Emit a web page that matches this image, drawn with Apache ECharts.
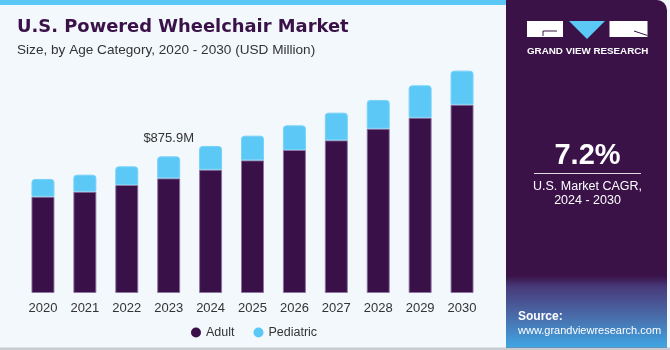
<!DOCTYPE html>
<html>
<head>
<meta charset="utf-8">
<script src="https://cdn.jsdelivr.net/npm/echarts@6/dist/echarts.min.js"></script>
<style>
html,body{margin:0;padding:0;background:#f3f8fc;}
#c{width:670px;height:350px;}
</style>
</head>
<body>
<div id="c"></div>
<script>
var years = ['2020','2021','2022','2023','2024','2025','2026','2027','2028','2029','2030'];
var adult = [617.5, 649.5, 692.5, 734.8, 790.6, 850.2, 916.9, 978.5, 1053.5, 1124.0, 1207.4];
var pediatric = [113.5, 109.0, 119.3, 141.1, 152.0, 158.4, 157.7, 177.6, 184.0, 207.1, 218.0];
var labelIndex = 3;

var chart = echarts.init(document.getElementById('c'), null, {renderer:'canvas'});
var FONT = '"Liberation Sans", Arial, sans-serif';
var purple = '#3a1048';
var blue = '#5bc8f5';

var pedData = pediatric.map(function(v,i){
  if (i === labelIndex) {
    return {value: v, label: {show: true}};
  }
  return v;
});

var option = {
  backgroundColor: '#f3f8fc',
  animation: false,
  title: [{
    text: 'U.S. Powered Wheelchair Market',
    left: 17, top: 18, padding: 0,
    textStyle: {fontFamily: '"DejaVu Sans", sans-serif', fontWeight: 'bold', fontSize: 17.9, color: '#3a1248'}
  },{
    text: 'Size, by Age Category, 2020 - 2030 (USD Million)',
    left: 17, top: 43, padding: 0,
    textStyle: {fontFamily: FONT, fontWeight: 'normal', fontSize: 13.6, color: '#333333'}
  }],
  legend: {
    left: 186, top: 321,
    itemWidth: 10, itemHeight: 10, itemGap: 19,
    icon: 'circle',
    itemStyle: {borderWidth: 0},
    textStyle: {fontFamily: FONT, fontSize: 12.5, color: '#333333', padding: [0,0,0,0]},
    data: ['Adult','Pediatric']
  },
  grid: {left: 22, right: 187, top: 59, bottom: 57},
  xAxis: {
    type: 'category',
    data: years,
    axisLine: {show: false},
    axisTick: {show: false},
    axisLabel: {fontFamily: FONT, fontSize: 13, color: '#333333', margin: 9}
  },
  yAxis: {
    type: 'value', min: 0, max: 1500,
    show: false,
    splitLine: {show: false}
  },
  series: [{
    name: 'Adult',
    type: 'bar',
    stack: 'total',
    barWidth: 23,
    data: adult,
    itemStyle: {color: purple, borderColor: 'rgba(140,115,160,0.9)', borderWidth: 1}
  },{
    name: 'Pediatric',
    type: 'bar',
    stack: 'total',
    barWidth: 23,
    data: pedData,
    itemStyle: {color: blue, borderRadius: [3,3,0,0], borderColor: 'rgba(120,210,250,1)', borderWidth: 1},
    label: {
      show: false,
      position: 'top',
      distance: 11,
      fontFamily: FONT, fontSize: 13, color: '#333333',
      formatter: function(p){
        return '$' + (adult[p.dataIndex] + pediatric[p.dataIndex]).toFixed(1) + 'M';
      }
    }
  }],
  graphic: [
    {type:'rect', shape:{x:0,y:0,width:506,height:5}, style:{fill: blue}, silent:true},
    {type:'rect', shape:{x:0,y:347.5,width:670,height:2.5}, style:{fill:'#c8ccd0'}, silent:true},
    {type:'rect', shape:{x:506,y:0,width:161,height:347.5, r:[0,10,0,0]}, style:{fill:'#3a1248'}, silent:true},
    {type:'rect', shape:{x:506,y:276,width:161,height:71.5},
      style:{fill: new echarts.graphic.LinearGradient(0,0,0,1,[
        {offset:0, color:'#3a1248'},
        {offset:0.15, color:'#483a7a'},
        {offset:0.55, color:'#4a6aa8'},
        {offset:1, color:'#3fa6e4'}
      ])}, silent:true},
    // logo
    {type:'rect', shape:{x:527,y:21,width:36,height:16}, style:{fill:'#ffffff'}, silent:true},
    {type:'polyline', shape:{points:[[543,36],[543,31],[557,31]]}, style:{stroke:'#3a1248', lineWidth:1, fill:null}, silent:true},
    {type:'polygon', shape:{points:[[569,21],[605,21],[587,39]]}, style:{fill: blue}, silent:true},
    {type:'rect', shape:{x:609.5,y:21,width:38,height:16}, style:{fill:'#ffffff'}, silent:true},
    {type:'polyline', shape:{points:[[634,31],[647.5,35.5]]}, style:{stroke:'#3a1248', lineWidth:1, fill:null}, silent:true},
    {type:'text', style:{text:'GRAND VIEW RESEARCH', x:527, y:51, textVerticalAlign:'middle', fill:'#ffffff', font:'bold 9.8px ' + FONT}, silent:true},
    {type:'text', style:{text:'7.2%', x:587.5, y:156, textAlign:'center', textVerticalAlign:'middle', fill:'#ffffff', font:'bold 29px ' + FONT}, silent:true},
    {type:'line', shape:{x1:534, y1:173.5, x2:641, y2:173.5}, style:{stroke:'rgba(255,255,255,0.85)', lineWidth:1}, silent:true},
    {type:'text', style:{text:'U.S. Market CAGR,', x:587.5, y:187, textAlign:'center', textVerticalAlign:'middle', fill:'#ffffff', font:'12.5px ' + FONT}, silent:true},
    {type:'text', style:{text:'2024 - 2030', x:587.5, y:201, textAlign:'center', textVerticalAlign:'middle', fill:'#ffffff', font:'12.5px ' + FONT}, silent:true},
    {type:'text', style:{text:'Source:', x:518, y:317, textAlign:'left', textVerticalAlign:'middle', fill:'#ffffff', font:'bold 12px ' + FONT}, silent:true},
    {type:'text', style:{text:'www.grandviewresearch.com', x:518, y:330.5, textAlign:'left', textVerticalAlign:'middle', fill:'#ffffff', font:'11px ' + FONT}, silent:true}
  ]
};
chart.setOption(option);
</script>
</body>
</html>
